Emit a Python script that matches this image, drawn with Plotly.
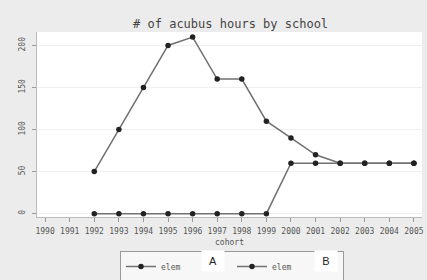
import plotly.graph_objects as go

cohort = list(range(1992, 2006))
series_a = [50, 100, 150, 200, 210, 160, 160, 110, 90, 70, 60, 60, 60, 60]
series_b = [0, 0, 0, 0, 0, 0, 0, 0, 60, 60, 60, 60, 60, 60]
x_ticks = list(range(1990, 2006))
y_ticks = [0, 50, 100, 150, 200]
title = "# of acubus hours by school"
legend_names = ["elem", "elem"]
legend_covers = ["A", "B"]

mono = "DejaVu Sans Mono"
fig = go.Figure()
for ys, nm in zip([series_a, series_b], legend_names):
    fig.add_trace(go.Scatter(
        x=cohort, y=ys, mode="lines+markers", name=nm,
        line=dict(color="#707070", width=1.5),
        marker=dict(color="#222222", size=5.5),
    ))

PL, PR, PT, PB = 37, 422, 32, 217
pw, ph = PR - PL, PB - PT

fig.update_layout(
    width=427, height=280,
    margin=dict(l=PL, r=427 - PR, t=PT, b=280 - PB, autoexpand=False),
    paper_bgcolor="#ececec", plot_bgcolor="white",
    title=dict(text=title, x=0.54, xanchor="center", y=0.914, yanchor="middle",
               font=dict(family=mono, size=12, color="#444")),
    font=dict(family=mono, size=8, color="#444"),
    showlegend=True,
    legend=dict(orientation="h", x=(120 - PL) / pw, xanchor="left",
                y=-(251 - PB) / ph, yanchor="top",
                bgcolor="#f7f7f7", bordercolor="#999", borderwidth=1,
                font=dict(family=mono, size=8, color="#555"),
                entrywidth=66, entrywidthmode="pixels", tracegroupgap=0),
)
fig.update_xaxes(range=[1989.67, 2005.33], tickvals=x_ticks,
                 ticktext=[str(v) for v in x_ticks],
                 showgrid=False, zeroline=False, showline=True, linecolor="#bbb",
                 ticks="outside", ticklen=4, tickcolor="#999", ticklabelstandoff=2,
                 tickfont=dict(family=mono, size=8, color="#555"),
                 title=dict(text="cohort", standoff=4, font=dict(family=mono, size=8, color="#555")))
fig.update_yaxes(range=[-4, 216], tickvals=y_ticks,
                 showgrid=True, gridcolor="#f0f0f0", zeroline=False,
                 showline=True, linecolor="#bbb",
                 ticks="outside", ticklen=4, tickcolor="#999", tickangle=-90,
                 ticklabelstandoff=4,
                 tickfont=dict(family=mono, size=8, color="#555"))

for txt, xp in zip(legend_covers, [213, 326]):
    fig.add_annotation(text=txt, xref="paper", yref="paper",
                       x=(xp - PL) / pw, y=-(261 - PB) / ph,
                       xanchor="center", yanchor="middle",
                       showarrow=False, bgcolor="white", width=20, height=18,
                       font=dict(family="Liberation Sans", size=11, color="#222"))

fig.write_html("out.html", config={"displayModeBar": False},
               post_script="document.body.style.margin='0';")
